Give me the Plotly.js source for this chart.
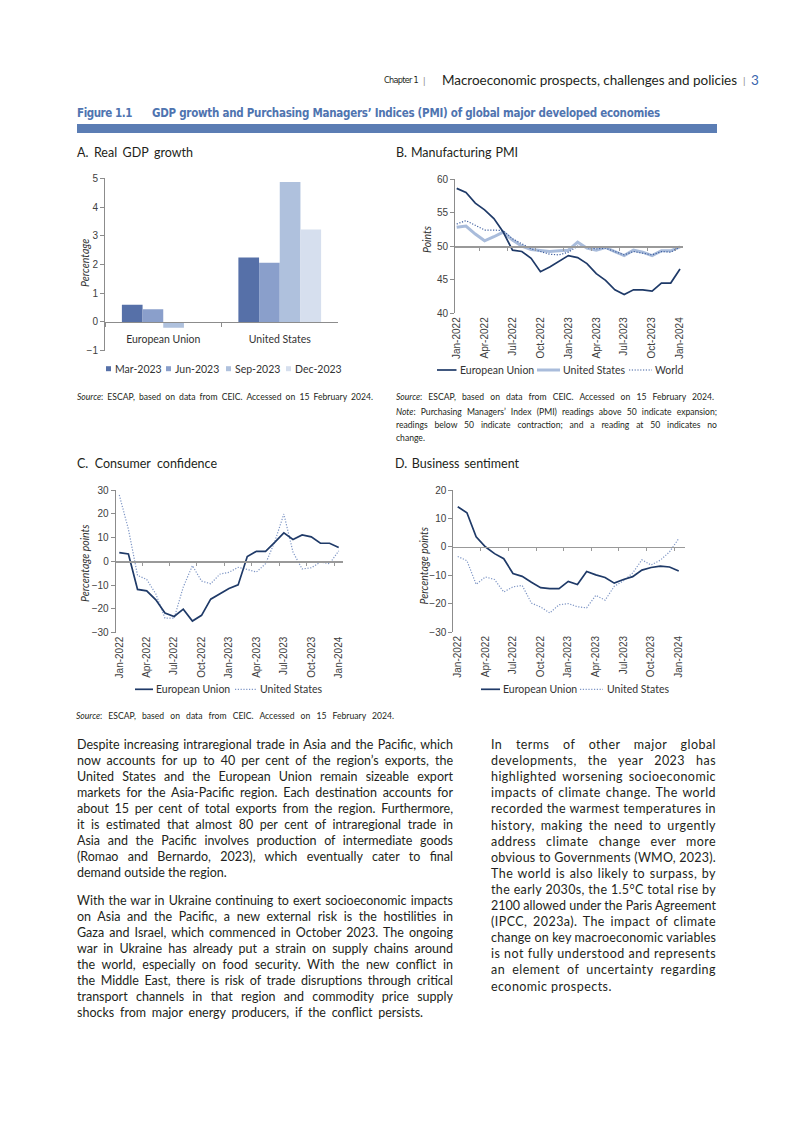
<!DOCTYPE html>
<html><head><meta charset="utf-8">
<script src="https://cdn.plot.ly/plotly-3.0.1.min.js"></script>
<style>
html,body{margin:0;padding:0;background:#fff;}
#page{position:relative;width:793px;height:1122px;overflow:hidden;font-family:Lato,"Noto Sans",sans-serif;color:#231f20;background:#fff;}
#chart{position:absolute;left:0;top:0;width:793px;height:1122px;}
.t{position:absolute;white-space:nowrap;}
.body{font-size:12.5px;line-height:16px;}
.rc{letter-spacing:0.45px;}
.src{font-size:8.6px;line-height:12px;}
.ct{font-size:12.5px;line-height:16px;}
.hdr{font-family:"Liberation Sans Narrow","DejaVu Sans Condensed","Liberation Sans",sans-serif;}
.fig{font-family:"DejaVu Sans Condensed","Liberation Sans Narrow","DejaVu Sans",sans-serif;font-weight:bold;color:#4f74b0;font-size:11.5px;line-height:14px;}
</style></head>
<body><div id="page">
<div id="chart"></div>

<!-- running header -->
<div class="t hdr" style="left:384px;top:73px;font-size:9px;line-height:14px;" data-w="34" data-m="ls">Chapter 1</div>
<div class="t" style="left:423px;top:73px;font-size:10px;line-height:14px;color:#888;">|</div>
<div class="t" style="left:442px;top:72px;font-size:13.5px;line-height:16px;" data-w="295">Macroeconomic prospects, challenges and policies</div>
<div class="t" style="left:743px;top:73px;font-size:10px;line-height:14px;color:#888;">|</div>
<div class="t" style="left:751px;top:72px;font-size:13.5px;line-height:16px;color:#3a66ad;">3</div>

<!-- figure title -->
<div class="t fig" style="left:77px;top:106px;" data-w="55" data-m="ls">Figure 1.1</div>
<div class="t fig" style="left:152px;top:106px;" data-w="508">GDP growth and Purchasing Managers’ Indices (PMI) of global major developed economies</div>
<div style="position:absolute;left:77px;top:124px;width:640px;height:9px;background:#5b7db4;"></div>

<!-- panel titles -->
<div class="t ct" style="left:77px;top:145px;" data-w="116">A. Real GDP growth</div>
<div class="t ct" style="left:396px;top:145px;" data-w="122">B. Manufacturing PMI</div>
<div class="t ct" style="left:77px;top:456px;" data-w="140">C. Consumer confidence</div>
<div class="t ct" style="left:395px;top:456px;" data-w="124">D. Business sentiment</div>

<!-- sources -->
<div class="t src" style="left:77px;top:391px;" data-w="296"><i>Source</i>: ESCAP, based on data from CEIC. Accessed on 15 February 2024.</div>
<div class="t src" style="left:396px;top:391px;" data-w="318"><i>Source</i>: ESCAP, based on data from CEIC. Accessed on 15 February 2024.</div>
<div class="t src" style="left:396px;top:406px;" data-w="321"><i>Note</i>: Purchasing Managers’ Index (PMI) readings above 50 indicate expansion;</div>
<div class="t src" style="left:396px;top:419px;" data-w="321">readings below 50 indicate contraction; and a reading at 50 indicates no</div>
<div class="t src" style="left:396px;top:432px;">change.</div>
<div class="t src" style="left:76px;top:710px;" data-w="318"><i>Source</i>: ESCAP, based on data from CEIC. Accessed on 15 February 2024.</div>

<!-- body left column -->
<div class="t body" style="left:77px;top:737px;" data-w="376">Despite increasing intraregional trade in Asia and the Pacific, which</div>
<div class="t body" style="left:77px;top:753px;" data-w="376">now accounts for up to 40 per cent of the region’s exports, the</div>
<div class="t body" style="left:77px;top:769px;" data-w="376">United States and the European Union remain sizeable export</div>
<div class="t body" style="left:77px;top:785px;" data-w="376">markets for the Asia-Pacific region. Each destination accounts for</div>
<div class="t body" style="left:77px;top:801px;" data-w="376">about 15 per cent of total exports from the region. Furthermore,</div>
<div class="t body" style="left:77px;top:817px;" data-w="376">it is estimated that almost 80 per cent of intraregional trade in</div>
<div class="t body" style="left:77px;top:833px;" data-w="376">Asia and the Pacific involves production of intermediate goods</div>
<div class="t body" style="left:77px;top:849px;" data-w="376">(Romao and Bernardo, 2023), which eventually cater to final</div>
<div class="t body" style="left:77px;top:865px;">demand outside the region.</div>

<div class="t body" style="left:77px;top:893px;" data-w="376">With the war in Ukraine continuing to exert socioeconomic impacts</div>
<div class="t body" style="left:77px;top:909px;" data-w="376">on Asia and the Pacific, a new external risk is the hostilities in</div>
<div class="t body" style="left:77px;top:925px;" data-w="376">Gaza and Israel, which commenced in October 2023. The ongoing</div>
<div class="t body" style="left:77px;top:941px;" data-w="376">war in Ukraine has already put a strain on supply chains around</div>
<div class="t body" style="left:77px;top:957px;" data-w="376">the world, especially on food security. With the new conflict in</div>
<div class="t body" style="left:77px;top:973px;" data-w="376">the Middle East, there is risk of trade disruptions through critical</div>
<div class="t body" style="left:77px;top:989px;" data-w="376">transport channels in that region and commodity price supply</div>
<div class="t body" style="left:77px;top:1005px;" data-w="346">shocks from major energy producers, if the conflict persists.</div>

<!-- body right column -->
<div class="t body rc" style="left:491px;top:737px;" data-w="225">In terms of other major global</div>
<div class="t body rc" style="left:491px;top:753.1px;" data-w="225">developments, the year 2023 has</div>
<div class="t body rc" style="left:491px;top:769.2px;" data-w="225">highlighted worsening socioeconomic</div>
<div class="t body rc" style="left:491px;top:785.3px;" data-w="225">impacts of climate change. The world</div>
<div class="t body rc" style="left:491px;top:801.4px;" data-w="225">recorded the warmest temperatures in</div>
<div class="t body rc" style="left:491px;top:817.5px;" data-w="225">history, making the need to urgently</div>
<div class="t body rc" style="left:491px;top:833.6px;" data-w="225">address climate change ever more</div>
<div class="t body rc" style="left:491px;top:849.7px;" data-w="225">obvious to Governments (WMO, 2023).</div>
<div class="t body rc" style="left:491px;top:865.8px;" data-w="225">The world is also likely to surpass, by</div>
<div class="t body rc" style="left:491px;top:881.9px;" data-w="225">the early 2030s, the 1.5°C total rise by</div>
<div class="t body rc" style="left:491px;top:898px;" data-w="225">2100 allowed under the Paris Agreement</div>
<div class="t body rc" style="left:491px;top:914.1px;" data-w="225">(IPCC, 2023a). The impact of climate</div>
<div class="t body rc" style="left:491px;top:930.2px;" data-w="225">change on key macroeconomic variables</div>
<div class="t body rc" style="left:491px;top:946.3px;" data-w="225">is not fully understood and represents</div>
<div class="t body rc" style="left:491px;top:962.4px;" data-w="225">an element of uncertainty regarding</div>
<div class="t body rc" style="left:491px;top:978.5px;">economic prospects.</div>
</div>

<script>
// ---------------- DATA ----------------
const gdpCategories = ['European Union', 'United States'];
const gdpQuarters = ['Mar-2023', 'Jun-2023', 'Sep-2023', 'Dec-2023'];
const gdpMar = [0.60, 2.24];
const gdpJun = [0.44, 2.06];
const gdpSep = [-0.20, 4.87];
const gdpDec = [0.00, 3.22];

const monthLabels = ['Jan-2022','Feb-2022','Mar-2022','Apr-2022','May-2022','Jun-2022','Jul-2022','Aug-2022','Sep-2022','Oct-2022','Nov-2022','Dec-2022',
  'Jan-2023','Feb-2023','Mar-2023','Apr-2023','May-2023','Jun-2023','Jul-2023','Aug-2023','Sep-2023','Oct-2023','Nov-2023','Dec-2023','Jan-2024'];

const pmiEU    = [58.6,58.0,56.4,55.4,54.1,52.1,49.4,49.2,48.2,46.2,46.9,47.8,48.6,48.3,47.4,45.9,44.9,43.5,42.8,43.5,43.5,43.3,44.5,44.5,46.6];
const pmiUS    = [52.8,53.0,51.8,50.8,51.4,52.1,50.9,50.0,49.5,49.4,49.2,49.3,49.4,50.6,49.7,49.4,49.8,49.2,48.6,49.4,49.1,48.6,49.3,49.3,49.9];
const pmiWorld = [53.3,53.8,53.1,52.4,52.4,52.3,51.1,50.3,49.6,49.2,48.8,48.7,49.1,50.0,49.8,49.6,49.7,49.2,48.7,49.2,49.0,48.7,49.2,49.1,49.9];

const ccEU = [3.7,3.1,-11.8,-12.4,-16.2,-21.7,-23.2,-20.1,-25.1,-22.7,-15.9,-13.5,-11.4,-9.9,2.0,4.2,4.2,8.0,12.0,9.2,11.1,10.3,7.6,7.6,5.8];
const ccUS = [27.9,13.5,-5.9,-7.6,-13.7,-23.9,-23.9,-10.8,-1.8,-8.3,-9.4,-5.4,-4.6,-2.5,-3.4,-4.5,-1.0,8.2,19.9,3.9,-3.2,-2.7,-0.3,-1.0,4.4];

const bsEU = [14.1,12.0,3.5,0.0,-2.4,-4.2,-9.4,-10.4,-12.5,-14.4,-14.7,-14.7,-12.2,-13.3,-8.7,-9.9,-10.8,-12.8,-11.5,-10.5,-8.2,-7.3,-6.8,-7.1,-8.5];
const bsUS = [-3.4,-4.9,-13.2,-10.6,-11.5,-15.9,-14.1,-13.6,-19.8,-21.2,-23.3,-20.4,-20.0,-21.1,-21.5,-17.1,-18.8,-13.9,-12.0,-9.2,-4.6,-6.4,-4.7,-1.8,2.9];

// ---------------- LAYOUT HELPERS ----------------
const W = 793, H = 1122;
const fx = p => p / W;
const fy = p => 1 - p / H;
const monthIdx = monthLabels.map((_, i) => i);
const tickIdx = monthIdx.filter(i => i % 3 === 0);
const tickTxt = tickIdx.map(i => monthLabels[i]);
const minorIdx = tickIdx.slice(1).map(i => i - 0.5);

const C_EU = '#1f3a68', C_US_B = '#a9bcdb', C_WORLD = '#3f5f9f', C_US = '#7d95c5';
const DOT = '1.2px,1.6px';
const barColors = ['#5670a8', '#8a9fcb', '#afc1dd', '#d6dfee'];
const axisGray = '#8c8c8c';
const tickFont = {family: 'Liberation Sans, Arial, sans-serif', size: 10, color: '#404040'};
const labFont = {family: 'Lato, Noto Sans, sans-serif', size: 10.5, color: '#333'};

function yAx(domTop, domBot, range, dtick, anchor) {
  return {domain: [fy(domBot), fy(domTop)], range: range, dtick: dtick, anchor: anchor,
    showline: true, linecolor: axisGray, linewidth: 1, ticks: 'outside', ticklen: 4, tickcolor: axisGray,
    showgrid: false, zeroline: false, tickfont: tickFont, fixedrange: true};
}
function xBottom(left, right, range, anchor) {
  return {domain: [fx(left), fx(right)], range: range, anchor: anchor, showline: false, ticks: '',
    showgrid: false, zeroline: false, tickangle: -90, tickvals: tickIdx, ticktext: tickTxt,
    tickfont: tickFont, ticklabelstandoff: 1, fixedrange: true};
}
function xCross(base, left, right, range, posPx) {
  return {overlaying: base, anchor: 'free', position: fy(posPx), domain: [fx(left), fx(right)], range: range,
    showline: true, linecolor: '#999', linewidth: 1.4, ticks: 'outside', ticklen: 3, tickcolor: '#999',
    tickvals: minorIdx, showticklabels: false, showgrid: false, zeroline: false, fixedrange: true};
}
function lineTrace(y, color, width, dash, xa, ya, name) {
  return {x: monthIdx, y: y, type: 'scatter', mode: 'lines', name: name, line: {color: color, width: width, dash: dash},
    xaxis: xa, yaxis: ya, hoverinfo: 'skip', showlegend: false};
}
function ghost(xa, ya, yv) {
  return {x: [0], y: [yv], type: 'scatter', mode: 'markers', marker: {opacity: 0}, xaxis: xa, yaxis: ya, hoverinfo: 'skip', showlegend: false};
}

// ---------------- TRACES ----------------
const gdpSeries = [gdpMar, gdpJun, gdpSep, gdpDec];
const traces = [];
gdpSeries.forEach((s, i) => traces.push({type: 'bar', x: gdpCategories, y: s, name: gdpQuarters[i],
  marker: {color: barColors[i]}, xaxis: 'x', yaxis: 'y', hoverinfo: 'skip', showlegend: false}));

traces.push(lineTrace(pmiUS, C_US_B, 3, 'solid', 'x2', 'y2', 'United States'));
traces.push(lineTrace(pmiWorld, C_WORLD, 1.2, DOT, 'x2', 'y2', 'World'));
traces.push(lineTrace(pmiEU, C_EU, 1.7, 'solid', 'x2', 'y2', 'European Union'));
traces.push(ghost('x6', 'y2', 50));

traces.push(lineTrace(ccUS, C_US, 1.2, DOT, 'x3', 'y3', 'United States'));
traces.push(lineTrace(ccEU, C_EU, 1.7, 'solid', 'x3', 'y3', 'European Union'));
traces.push(ghost('x7', 'y3', 0));

traces.push(lineTrace(bsUS, C_US, 1.2, DOT, 'x4', 'y4', 'United States'));
traces.push(lineTrace(bsEU, C_EU, 1.7, 'solid', 'x4', 'y4', 'European Union'));
traces.push(ghost('x8', 'y4', 0));

// ---------------- LEGENDS (drawn as shapes + text) ----------------
const shapes = [], annotations = [];
function legLine(x0, x1, y, color, width, dash) {
  shapes.push({type: 'line', xref: 'paper', yref: 'paper', x0: fx(x0), x1: fx(x1), y0: fy(y), y1: fy(y),
    line: {color: color, width: width, dash: dash}});
}
function legBox(x0, y, color) {
  shapes.push({type: 'rect', xref: 'paper', yref: 'paper', x0: fx(x0), x1: fx(x0 + 5), y0: fy(y + 2.5), y1: fy(y - 2.5),
    fillcolor: color, line: {width: 0}});
}
function txt(x, y, text, font, xanchor, angle) {
  annotations.push({xref: 'paper', yref: 'paper', x: fx(x), y: fy(y), text: text, showarrow: false,
    xanchor: xanchor || 'left', yanchor: 'middle', font: font || labFont, textangle: angle || 0});
}
// A
const legAx = [106, 166, 226, 286];
gdpQuarters.forEach((q, i) => { legBox(legAx[i], 368.7, barColors[i]); txt(legAx[i] + 7, 368.7, q); });
// B
legLine(437, 456.5, 370, C_EU, 1.7, 'solid'); txt(458, 370, 'European Union');
legLine(537, 560, 370, C_US_B, 3, 'solid'); txt(561, 370, 'United States');
legLine(629, 652, 370, C_WORLD, 1.2, DOT); txt(653, 370, 'World');
// C
legLine(135, 153, 689.3, C_EU, 1.7, 'solid'); txt(154, 689.3, 'European Union');
legLine(235, 256.5, 689.3, C_US, 1.2, DOT); txt(258, 689.3, 'United States');
// D
legLine(481, 500, 689.3, C_EU, 1.7, 'solid'); txt(501, 689.3, 'European Union');
legLine(580, 603, 689.3, C_US, 1.2, DOT); txt(605, 689.3, 'United States');

// axis titles
const axTitleFont = {family: 'Lato, Noto Sans, sans-serif', size: 10.5, color: '#333'};
txt(85, 263, '<i>Percentage</i>', axTitleFont, 'center', -90);
txt(427, 240, '<i>Points</i>', axTitleFont, 'center', -90);
txt(85, 563, '<i>Percentage points</i>', axTitleFont, 'center', -90);
txt(423.5, 565, '<i>Percentage points</i>', axTitleFont, 'center', -90);

// ---------------- LAYOUT ----------------
const rB = [-0.18, 24.32], rC = [-0.39, 24.47], rD = [-0.48, 24.68];
const layout = {
  width: W, height: H, margin: {l: 0, r: 0, t: 0, b: 0, pad: 0},
  paper_bgcolor: 'rgba(0,0,0,0)', plot_bgcolor: 'rgba(0,0,0,0)', showlegend: false,
  barmode: 'group', bargap: 0.29, bargroupgap: 0,
  font: {family: 'Liberation Sans, Arial, sans-serif', size: 10, color: '#404040'},
  xaxis: {domain: [fx(105), fx(338)], type: 'category', anchor: 'free', position: fy(322),
    showline: true, linecolor: axisGray, linewidth: 1, ticks: 'outside', ticklen: 4, tickcolor: axisGray,
    tickson: 'boundaries', showgrid: false, zeroline: false, tickfont: labFont, ticklabelstandoff: 7, fixedrange: true},
  yaxis: yAx(178.3, 350.7, [-1, 5], 1, 'x'),
  xaxis2: xBottom(455, 683, rB, 'y2'),
  yaxis2: yAx(179, 313.3, [40, 60], 5, 'x2'),
  xaxis6: xCross('x2', 455, 683, rB, 246.15),
  xaxis3: xBottom(115.7, 343, rC, 'y3'),
  yaxis3: yAx(490, 632.7, [-30, 30], 10, 'x3'),
  xaxis7: xCross('x3', 115.7, 343, rC, 561.35),
  xaxis4: xBottom(453.3, 685, rD, 'y4'),
  yaxis4: yAx(490, 632, [-30, 20], 10, 'x4'),
  xaxis8: xCross('x4', 453.3, 685, rD, 546.8),
  shapes: shapes, annotations: annotations
};

Plotly.newPlot('chart', traces, layout, {staticPlot: true, displayModeBar: false});

// ---------------- TEXT FITTING ----------------
// Justify each line to its measured width: stretch word gaps, or tighten tracking if the line is too long.
function fit() {
  document.querySelectorAll('[data-w]').forEach(el => {
    const target = +el.dataset.w;
    el.style.wordSpacing = '';
    el.style.letterSpacing = '';
    const baseLS = parseFloat(getComputedStyle(el).letterSpacing) || 0;
    const nat = el.getBoundingClientRect().width;
    const extra = target - nat;
    const nChars = el.textContent.length;
    const nSp = (el.textContent.match(/ /g) || []).length;
    if ((el.dataset.m || 'ws') === 'ws' && extra >= 0 && nSp) {
      el.style.wordSpacing = (extra / nSp) + 'px';
    } else {
      el.style.letterSpacing = (baseLS + extra / nChars) + 'px';
    }
  });
}
fit();
if (document.fonts && document.fonts.ready) document.fonts.ready.then(fit);
</script>
</body></html>
